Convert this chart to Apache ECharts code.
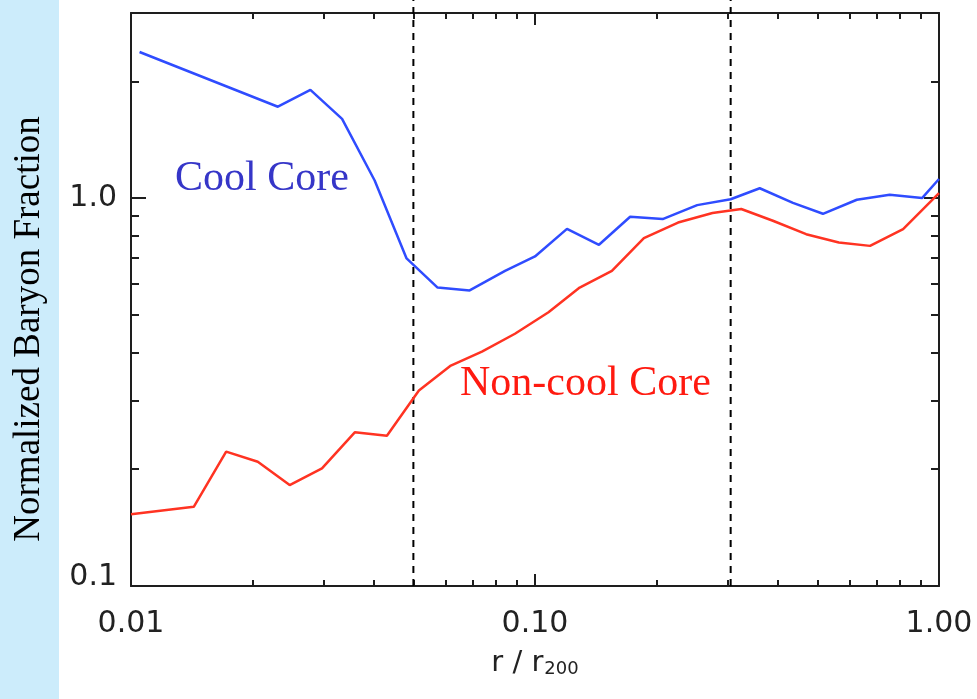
<!DOCTYPE html>
<html>
<head>
<meta charset="utf-8">
<script src="https://cdn.jsdelivr.net/npm/echarts@6/dist/echarts.min.js"></script>
<style>
  html, body { margin: 0; padding: 0; background: #ffffff; }
  #chart { width: 977px; height: 699px; }
</style>
</head>
<body>
<div id="chart"></div>
<script>
// Radial baryon fraction profiles, normalized, for cool-core and non-cool-core clusters
const coolR = [0.0105, 0.0231, 0.0278, 0.0333, 0.0401, 0.0481, 0.0574, 0.0689, 0.0843, 0.100,
               0.120, 0.144, 0.172, 0.207, 0.252, 0.305, 0.360, 0.435, 0.516, 0.626, 0.755, 0.908, 1.00];
const coolF = [2.38, 1.72, 1.90, 1.60, 1.11, 0.699, 0.588, 0.578, 0.649, 0.707,
               0.833, 0.758, 0.895, 0.883, 0.959, 0.993, 1.06, 0.972, 0.911, 0.990, 1.02, 1.00, 1.12];

const nonCoolR = [0.0100, 0.0143, 0.0172, 0.0206, 0.0247, 0.0297, 0.0358, 0.0430, 0.0516, 0.0619,
                  0.0739, 0.0892, 0.108, 0.129, 0.155, 0.186, 0.226, 0.275, 0.324, 0.388,
                  0.469, 0.565, 0.675, 0.815, 1.00];
const nonCoolF = [0.153, 0.160, 0.222, 0.209, 0.182, 0.201, 0.249, 0.244, 0.319, 0.370,
                  0.402, 0.447, 0.508, 0.588, 0.649, 0.788, 0.865, 0.915, 0.937, 0.874,
                  0.807, 0.768, 0.753, 0.832, 1.03];

// Reference radii marked with vertical dashed lines
const markRadii = [0.05, 0.305];

// Tick positions
const xMajorTicks = [0.01, 0.1, 1];
const xMinorTicks = [0.02, 0.03, 0.04, 0.05, 0.06, 0.07, 0.08, 0.09, 0.2, 0.3, 0.4, 0.5, 0.6, 0.7, 0.8, 0.9];
const yMajorTicks = [0.1, 1];
const yMinorTicks = [0.2, 0.3, 0.4, 0.5, 0.6, 0.7, 0.8, 0.9, 2];

const INK = '#1e1e1e';
const LABEL_FONT = '"DejaVu Sans", sans-serif';
const SERIF = '"Liberation Serif", "Times New Roman", serif';

function pairs(xs, ys) { return xs.map((x, i) => [x, ys[i]]); }

function logAxis(opts) {
  return Object.assign({
    type: 'log', logBase: 10, gridIndex: 0,
    splitLine: { show: false },
    axisLine: { show: false },
    axisLabel: { show: false },
    axisTick: { show: true }
  }, opts);
}

function ticks(values, len) {
  return { show: true, inside: true, length: len, customValues: values,
           lineStyle: { color: INK, width: 2 } };
}

const frameLine = { show: true, onZero: false, lineStyle: { color: INK, width: 2 } };

const chart = echarts.init(document.getElementById('chart'), null, { renderer: 'canvas' });

const option = {
  animation: false,
  backgroundColor: '#ffffff',
  grid: [
    { left: 131, right: 38, top: 13, bottom: 113, containLabel: false },
    { left: 131, right: 38, top: 0, bottom: 113, containLabel: false }
  ],
  graphic: [
    { type: 'rect', left: 0, top: 0, z: -10, silent: true,
      shape: { width: 59, height: 699 }, style: { fill: '#ccecfb' } },
    { type: 'text', x: 29, y: 329, rotation: Math.PI / 2, silent: true,
      style: { text: 'Normalized Baryon Fraction', font: '37px ' + SERIF, fill: '#000000',
               align: 'center', verticalAlign: 'middle' } },
    { type: 'text', x: 175, y: 179, silent: true,
      style: { text: 'Cool Core', font: '42px ' + SERIF, fill: '#3636c8',
               align: 'left', verticalAlign: 'middle' } },
    { type: 'text', x: 460, y: 384, silent: true,
      style: { text: 'Non-cool Core', font: '42px ' + SERIF, fill: '#ff1a10',
               align: 'left', verticalAlign: 'middle' } }
  ],
  xAxis: [
    logAxis({
      position: 'bottom', min: 0.01, max: 1,
      axisLine: frameLine,
      axisTick: ticks(xMajorTicks, 12),
      axisLabel: { show: true, customValues: xMajorTicks, margin: 23,
                   fontFamily: LABEL_FONT, fontSize: 30, color: '#222222',
                   formatter: v => Number(v).toFixed(2) },
      name: '{r|r / r}{s|200}', nameLocation: 'middle', nameGap: 63,
      nameTextStyle: {
        rich: {
          r: { fontFamily: LABEL_FONT, fontSize: 29, color: '#222222' },
          s: { fontFamily: LABEL_FONT, fontSize: 18, color: '#222222', verticalAlign: 'bottom', padding: [0, 0, 0, 1] }
        }
      }
    }),
    logAxis({ position: 'bottom', min: 0.01, max: 1, axisTick: ticks(xMinorTicks, 6) }),
    logAxis({ position: 'top', min: 0.01, max: 1, axisLine: frameLine, axisTick: ticks(xMajorTicks, 12) }),
    logAxis({ position: 'top', min: 0.01, max: 1, axisTick: ticks(xMinorTicks, 6) }),
    { type: 'log', logBase: 10, gridIndex: 1, min: 0.01, max: 1, show: false }
  ],
  yAxis: [
    logAxis({
      position: 'left', min: 0.1, max: 3,
      axisLine: frameLine,
      axisTick: ticks(yMajorTicks, 15),
      axisLabel: { show: true, customValues: yMajorTicks, margin: 14,
                   formatter: v => (Number(v) < 0.5 ? '{lo|' : '{hi|') + Number(v).toFixed(1) + '}',
                   rich: {
                     lo: { fontFamily: LABEL_FONT, fontSize: 30, color: '#222222', padding: [0, 0, 18, 0] },
                     hi: { fontFamily: LABEL_FONT, fontSize: 30, color: '#222222', padding: [0, 0, 0, 0] }
                   } }
    }),
    logAxis({ position: 'left', min: 0.1, max: 3, axisTick: ticks(yMinorTicks, 8) }),
    logAxis({ position: 'right', min: 0.1, max: 3, axisLine: frameLine, axisTick: ticks(yMajorTicks, 15) }),
    logAxis({ position: 'right', min: 0.1, max: 3, axisTick: ticks(yMinorTicks, 8) }),
    { type: 'value', gridIndex: 1, min: 0, max: 1, show: false }
  ],
  series: [
    ...markRadii.map(r => ({
      type: 'line', xAxisIndex: 4, yAxisIndex: 4, symbol: 'none', silent: true, z: 1,
      data: [[r, 0], [r, 1]],
      lineStyle: { color: '#000000', width: 2, type: [7, 6] }
    })),
    {
      name: 'Cool Core', type: 'line', xAxisIndex: 0, yAxisIndex: 0,
      symbol: 'none', z: 3, data: pairs(coolR, coolF),
      lineStyle: { color: '#2f4cff', width: 2.5 }
    },
    {
      name: 'Non-cool Core', type: 'line', xAxisIndex: 0, yAxisIndex: 0,
      symbol: 'none', z: 3, data: pairs(nonCoolR, nonCoolF),
      lineStyle: { color: '#ff3322', width: 2.5 }
    }
  ]
};

chart.setOption(option);
</script>
</body>
</html>
